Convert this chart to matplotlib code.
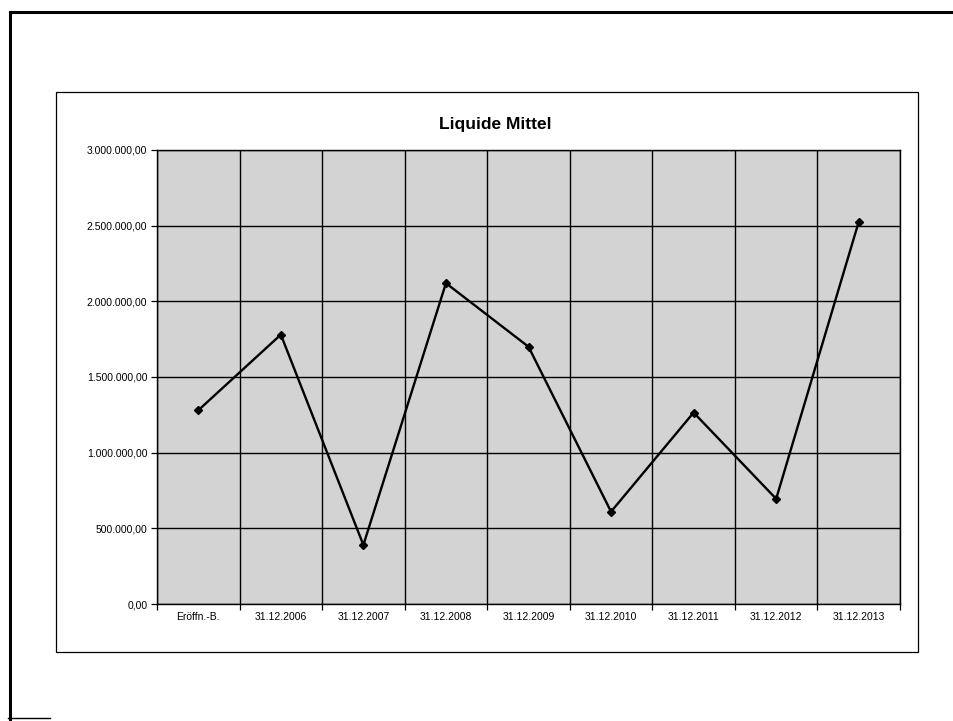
import matplotlib
matplotlib.use("Agg")
import matplotlib.pyplot as plt
from matplotlib.ticker import FuncFormatter, FixedLocator
from matplotlib.lines import Line2D
from matplotlib.patches import Rectangle

plt.rcParams['font.family'] = ['Liberation Sans', 'DejaVu Sans']

categories = ["Eröffn.-B.", "31.12.2006", "31.12.2007", "31.12.2008", "31.12.2009",
              "31.12.2010", "31.12.2011", "31.12.2012", "31.12.2013"]
values = [1280000, 1780000, 390000, 2120000, 1700000, 610000, 1265000, 695000, 2525000]
y_ticks = [0, 500000, 1000000, 1500000, 2000000, 2500000, 3000000]
title = "Liquide Mittel"

W, H = 954, 721
fig = plt.figure(figsize=(W / 100, H / 100), dpi=100)
fig.patch.set_facecolor("white")

def fx(px):
    return px / W

def fy(py):
    return 1 - py / H

# outer page frame (scan)
fig.add_artist(Line2D([fx(10), fx(954)], [fy(12), fy(12)], color="black", lw=2.2))
fig.add_artist(Line2D([fx(10), fx(10)], [fy(12), fy(721)], color="black", lw=2.2))
fig.add_artist(Line2D([fx(8), fx(50)], [fy(718), fy(718)], color="black", lw=1.0))

# chart frame
fig.add_artist(Rectangle((fx(56), fy(652)), fx(918) - fx(56), fy(92) - fy(652),
                         fill=False, edgecolor="black", lw=0.9))

ax = fig.add_axes([fx(157), fy(604), fx(900) - fx(157), fy(150) - fy(604)])
ax.set_facecolor("#d3d3d3")

x = list(range(len(categories)))
ax.plot(x, values, color="black", lw=1.7, marker="D", markersize=3.8,
        markerfacecolor="black", markeredgecolor="black", zorder=3)

ax.set_xlim(-0.5, len(categories) - 0.5)
ax.set_ylim(y_ticks[0], y_ticks[-1])

ax.set_xticks(x)
ax.set_xticklabels(categories, fontsize=7.5)
ax.xaxis.set_minor_locator(FixedLocator([i - 0.5 for i in range(len(categories) + 1)]))
ax.tick_params(axis="x", which="major", length=0, pad=6)
ax.tick_params(axis="x", which="minor", length=4, width=0.9, color="black", direction="out")

ax.set_yticks(y_ticks)
ax.yaxis.set_major_formatter(FuncFormatter(
    lambda v, p: f"{v:,.2f}".replace(",", "X").replace(".", ",").replace("X", ".")))
ax.tick_params(axis="y", which="major", length=4, width=0.9, labelsize=7.5, pad=3)

ax.grid(True, axis="y", which="major", color="black", lw=1.0)
ax.grid(True, axis="x", which="minor", color="black", lw=1.0)
ax.grid(False, axis="x", which="major")
ax.set_axisbelow(True)

for s in ax.spines.values():
    s.set_color("black")
    s.set_linewidth(1.0)

fig.text(fx(495), fy(125), title, ha="center", va="center", fontsize=12.5, fontweight="bold")

fig.savefig("out.png", dpi=100)
